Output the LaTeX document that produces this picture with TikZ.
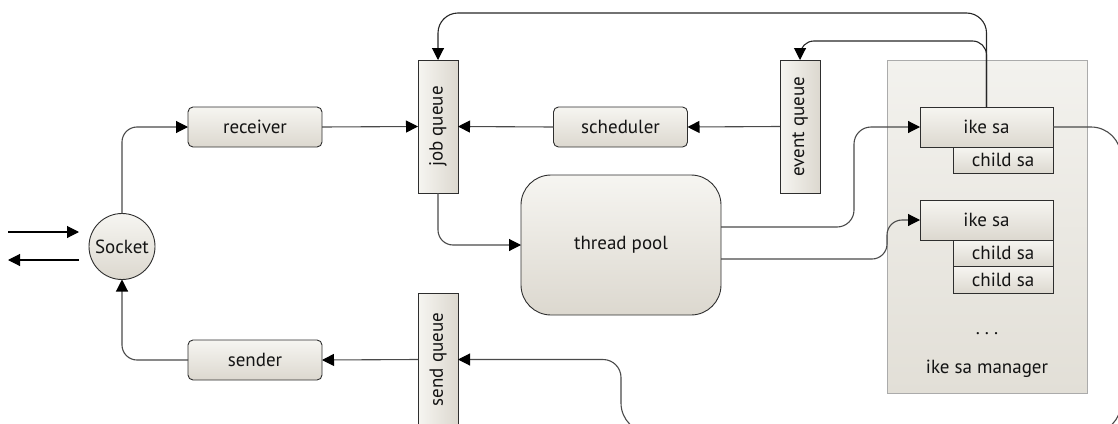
\documentclass[tikz,border=0pt]{standalone}
\usepackage{fontspec}
\setmainfont{PT Sans}
\usetikzlibrary{arrows.meta,calc}

\definecolor{boxtop}{HTML}{F6F5F1}
\definecolor{boxbot}{HTML}{DCD8CF}
\definecolor{mgrtop}{HTML}{F3F2EE}
\definecolor{mgrbot}{HTML}{E2DFD7}
\definecolor{mgrline}{HTML}{ABABAB}
\definecolor{edge}{HTML}{2E2E2E}
\definecolor{wire}{HTML}{4A4A4A}

\begin{document}
\begin{tikzpicture}[x=1pt,y=-1pt,
  font=\fontsize{19}{21}\selectfont,
  text=black!92,
  base/.style={draw=edge, line width=0.9pt, top color=boxtop, bottom color=boxbot,
    inner sep=0pt, outer sep=0pt},
  stage/.style={base, rounded corners=5pt, minimum width=134pt, minimum height=40pt},
  queue/.style={base, left color=boxtop, right color=boxbot,
    minimum width=40pt, minimum height=133pt},
  ikebox/.style={base, minimum width=133pt, minimum height=40pt},
  childbox/.style={base, minimum width=100pt, minimum height=26.5pt},
  conn/.style={draw=wire, line width=1.1pt, rounded corners=15pt},
  arr/.style={-{Triangle[length=12pt,width=12pt,color=black]}},
]
\clip (0,0) rectangle (1118,423);

% ike sa manager container
\node[draw=mgrline, line width=1pt, top color=mgrtop, bottom color=mgrbot,
      minimum width=200pt, minimum height=333pt, inner sep=0pt] (mgr) at (987,226.5) {};
\node (dots) at (987,334) {.\hspace{5pt}.\hspace{5pt}.};
\node (mgrlabel) at (987,369) {ike sa manager};

% processing stages
\node[circle, base, minimum size=66pt] (socket) at (122,246.5) {Socket};
\node[stage] (receiver) at (255,127) {receiver};
\node[stage] (sender) at (255,360) {sender};
\node[stage] (sched) at (620.5,127) {scheduler};
\node[stage, rounded corners=30pt, minimum width=200pt, minimum height=140pt] (pool) at (621,245) {thread pool};

\node[queue] (jobq) at (438,126.5) {\rotatebox{90}{job queue}};
\node[queue] (evq) at (800,126.5) {\rotatebox{90}{event queue}};
\node[queue] (sendq) at (438,359.5) {\rotatebox{90}{send queue}};

% security associations
\node[ikebox] (ike1) at (986.5,127) {ike sa};
\node[childbox, anchor=north east] (c1) at (ike1.south east) {child sa};
\node[ikebox] (ike2) at (986.5,220) {ike sa};
\node[childbox, anchor=north east] (c2) at (ike2.south east) {child sa};
\node[childbox, anchor=north east] (c3) at (c2.south east) {child sa};

% helper coordinates for routing
\coordinate (inA) at (8,232);
\coordinate (inB) at (79,232);
\coordinate (outA) at (79,260);
\coordinate (outB) at (8,260);
\coordinate (top) at (0,13);
\coordinate (mid) at (0,41);
\coordinate (v1) at (854,0);
\coordinate (v2) at (887,0);
\coordinate (v3) at (621,0);
\coordinate (far) at (1121,0);
\coordinate (low) at (0,433);
\coordinate (po1) at ($(pool.east)+(0,-18)$);
\coordinate (po2) at ($(pool.east)+(0,14)$);

% external traffic
\draw[conn, draw=black, arr] (inA) -- (inB);
\draw[conn, draw=black, arr] (outA) -- (outB);

% connections
\draw[conn, arr] (socket.north) |- (receiver.west);
\draw[conn, arr] (receiver.east) -- (jobq.west);
\draw[conn, arr] (sched.west) -- (jobq.east);
\draw[conn, arr] (evq.west) -- (sched.east);
\draw[conn, draw=black!85, arr, rounded corners=20pt]
  (ike1.north) -- (ike1.north |- top) -- (jobq.north |- top) -- (jobq.north);
\draw[conn, draw=black!85, arr, rounded corners=14pt]
  (ike1.north) -- (ike1.north |- mid) -- (evq.north |- mid) -- (evq.north);
\draw[conn, arr] (jobq.south) |- (pool.west);
\draw[conn, arr, rounded corners=17pt] (po1) -- (v1 |- po1) -- (v1 |- ike1.west) -- (ike1.west);
\draw[conn, arr, rounded corners=15pt] (po2) -- (v2 |- po2) -- (v2 |- ike2.west) -- (ike2.west);
\draw[conn, arr, rounded corners=30pt]
  (ike1.east) -- (far |- ike1.east) -- (far |- low) -- (v3 |- low)
  [rounded corners=18pt] -- (v3 |- sendq.east) -- (sendq.east);
\draw[conn, arr] (sendq.west) -- (sender.east);
\draw[conn, arr] (sender.west) -| (socket.south);
\end{tikzpicture}
\end{document}
